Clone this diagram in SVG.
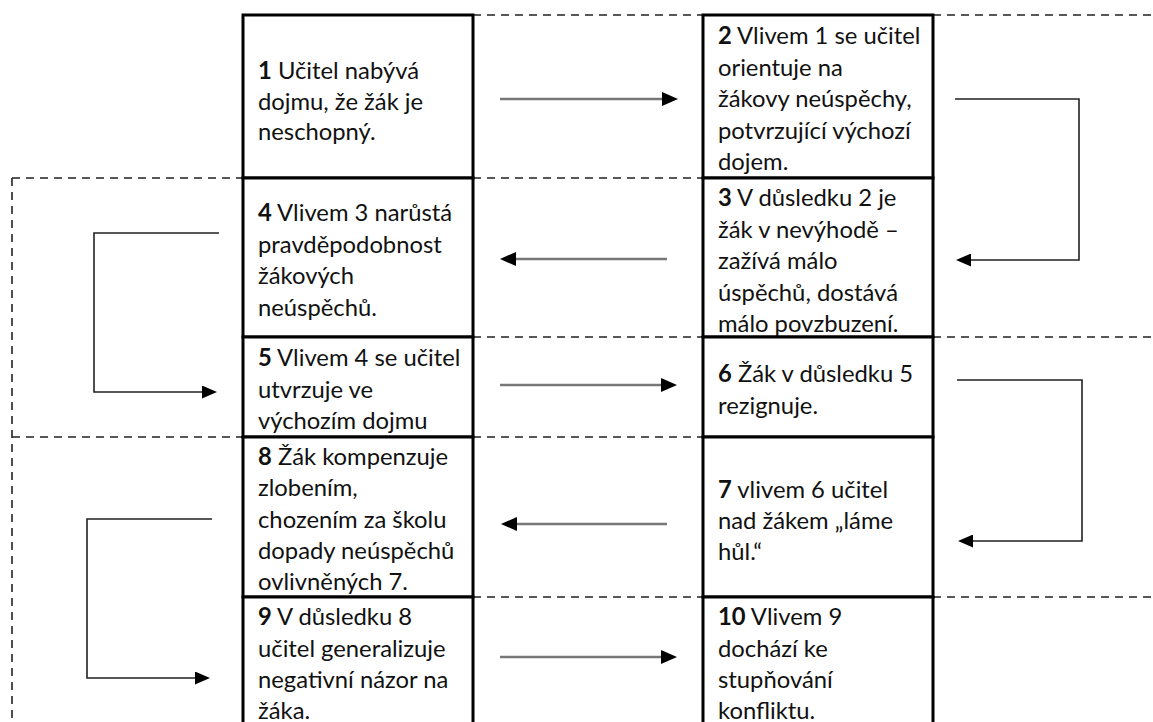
<svg xmlns="http://www.w3.org/2000/svg" width="1153" height="722" viewBox="0 0 1153 722">
<style>
.box{fill:#fff;stroke:#000;stroke-width:3}
.t{font-family:Lato,"Open Sans","Liberation Sans",sans-serif;font-size:23.8px;fill:#111}
.b{font-weight:bold}
.dash{fill:none;stroke:#222;stroke-width:1.6;stroke-dasharray:8 6}
.straight{fill:none;stroke:#777;stroke-width:2.6}
.elbow{fill:none;stroke:#222;stroke-width:1.6}
</style>
<defs>
<marker id="ah" viewBox="0 0 16 14" markerUnits="userSpaceOnUse" markerWidth="16" markerHeight="14" refX="6" refY="7" orient="auto">
<path d="M0,0 L16,7 L0,14 z" fill="#000"/>
</marker>
<marker id="ah2" viewBox="0 0 15 13" markerUnits="userSpaceOnUse" markerWidth="15" markerHeight="13" refX="5" refY="6.5" orient="auto">
<path d="M0,0 L15,6.5 L0,13 z" fill="#000"/>
</marker>
</defs>
<rect width="1153" height="722" fill="#fff"/>
<g id="dashed">
<path class="dash" d="M473,15 H703 M933,15 H1153 M12,178 H243 M473,178 H703 M473,337 H703 M933,337 H1153 M12,437 H243 M473,437 H703 M473,597 H703 M933,597 H1153 M12,178 V722"/>
</g>
<g id="n1"><rect class="box" x="243" y="15" width="230" height="163"/>
<text class="t" x="258" y="79"><tspan class="b">1</tspan> Učitel nabývá<tspan x="258" dy="30.5">dojmu, že žák je</tspan><tspan x="258" dy="30.5">neschopný.</tspan></text></g>
<g id="n2"><rect class="box" x="703" y="15" width="230" height="163"/>
<text class="t" x="718" y="44"><tspan class="b">2</tspan> Vlivem 1 se učitel<tspan x="718" dy="31.5">orientuje na</tspan><tspan x="718" dy="31.5">žákovy neúspěchy,</tspan><tspan x="718" dy="31.5">potvrzující výchozí</tspan><tspan x="718" dy="31.5">dojem.</tspan></text></g>
<g id="n3"><rect class="box" x="703" y="178" width="230" height="159"/>
<text class="t" x="718" y="206"><tspan class="b">3</tspan> V důsledku 2 je<tspan x="718" dy="31.5">žák v nevýhodě –</tspan><tspan x="718" dy="31.5">zažívá málo</tspan><tspan x="718" dy="31.5">úspěchů, dostává</tspan><tspan x="718" dy="31.5">málo povzbuzení.</tspan></text></g>
<g id="n4"><rect class="box" x="243" y="178" width="230" height="159"/>
<text class="t" x="258" y="221"><tspan class="b">4</tspan> Vlivem 3 narůstá<tspan x="258" dy="31.5">pravděpodobnost</tspan><tspan x="258" dy="31.5">žákových</tspan><tspan x="258" dy="31.5">neúspěchů.</tspan></text></g>
<g id="n5"><rect class="box" x="243" y="337" width="230" height="100"/>
<text class="t" x="258" y="366"><tspan class="b">5</tspan> Vlivem 4 se učitel<tspan x="258" dy="31.5">utvrzuje ve</tspan><tspan x="258" dy="31.5">výchozím dojmu</tspan></text></g>
<g id="n6"><rect class="box" x="703" y="337" width="230" height="100"/>
<text class="t" x="718" y="382"><tspan class="b">6</tspan> Žák v důsledku 5<tspan x="718" dy="32">rezignuje.</tspan></text></g>
<g id="n7"><rect class="box" x="703" y="437" width="230" height="160"/>
<text class="t" x="718" y="498"><tspan class="b">7</tspan> vlivem 6 učitel<tspan x="718" dy="31">nad žákem „láme</tspan><tspan x="718" dy="31">hůl.“</tspan></text></g>
<g id="n8"><rect class="box" x="243" y="437" width="230" height="160"/>
<text class="t" x="258" y="465"><tspan class="b">8</tspan> Žák kompenzuje<tspan x="258" dy="31.3">zlobením,</tspan><tspan x="258" dy="31.3">chozením za školu</tspan><tspan x="258" dy="31.3">dopady neúspěchů</tspan><tspan x="258" dy="31.3">ovlivněných 7.</tspan></text></g>
<g id="n9"><rect class="box" x="243" y="597" width="230" height="140"/>
<text class="t" x="258" y="625"><tspan class="b">9</tspan> V důsledku 8<tspan x="258" dy="31.5">učitel generalizuje</tspan><tspan x="258" dy="31.5">negativní názor na</tspan><tspan x="258" dy="31">žáka.</tspan></text></g>
<g id="n10"><rect class="box" x="703" y="597" width="230" height="140"/>
<text class="t" x="718" y="625"><tspan class="b">10</tspan> Vlivem 9<tspan x="718" dy="31.5">dochází ke</tspan><tspan x="718" dy="31.5">stupňování</tspan><tspan x="718" dy="31">konfliktu.</tspan></text></g>
<g id="connectors">
<path class="straight" d="M500,99 H668" marker-end="url(#ah)"/>
<path class="elbow" d="M955,99 H1079 V260 H966" marker-end="url(#ah2)"/>
<path class="straight" d="M667,259 H510" marker-end="url(#ah)"/>
<path class="elbow" d="M219,233 H94 V392 H207" marker-end="url(#ah2)"/>
<path class="straight" d="M500,385 H667" marker-end="url(#ah)"/>
<path class="elbow" d="M957,380 H1082 V541 H968" marker-end="url(#ah2)"/>
<path class="straight" d="M667,524 H511" marker-end="url(#ah)"/>
<path class="elbow" d="M212,519 H87 V678 H200" marker-end="url(#ah2)"/>
<path class="straight" d="M500,657 H667" marker-end="url(#ah)"/>
</g>
</svg>
